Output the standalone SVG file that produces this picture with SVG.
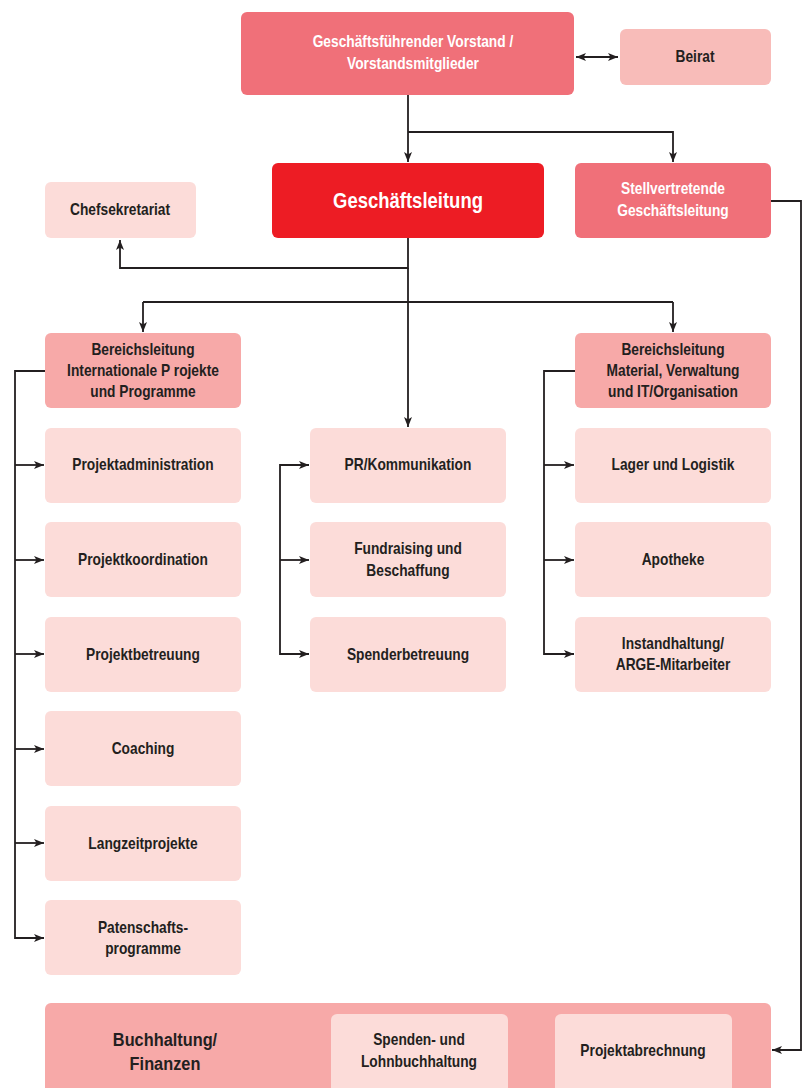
<svg xmlns="http://www.w3.org/2000/svg" width="803" height="1088" viewBox="0 0 803 1088">
<defs>
<marker id="ah" viewBox="0 0 10 8" refX="10" refY="4" markerWidth="10" markerHeight="8" markerUnits="userSpaceOnUse" orient="auto-start-reverse">
<path d="M0,0 L10,4 L0,8 L2.5,4 Z" fill="#231f20"/>
</marker>
<style>
.n rect{stroke:none}
.red{fill:#ed1c24}
.mid{fill:#f07079}
.lt{fill:#f8bcb9}
.br{fill:#f7a9a8}
.pl{fill:#fcdcd9}
text{font-family:"Liberation Sans",Arial,sans-serif;font-weight:bold;font-size:16px;text-anchor:middle;fill:#231f20;transform-box:fill-box;transform-origin:center;transform:scaleX(0.86)}
text.w{fill:#ffffff}
.c path{fill:none;stroke:#231f20;stroke-width:1.8}
</style>
</defs>
<rect width="803" height="1088" fill="#ffffff"/>
<g class="c">
<path d="M576,57 H618" marker-start="url(#ah)" marker-end="url(#ah)"/>
<path d="M408,95 V162"  marker-end="url(#ah)"/>
<path d="M408,132 H673 V162" marker-end="url(#ah)"/>
<path d="M408,238 V268 H120 V240" marker-end="url(#ah)"/>
<path d="M408,268 V427" marker-end="url(#ah)"/>
<path d="M143,302 H673" />
<path d="M143,302 V332" marker-end="url(#ah)"/>
<path d="M673,302 V332" marker-end="url(#ah)"/>
<path d="M45,371 H15 V938 H44" marker-end="url(#ah)"/>
<path d="M15,465 H44" marker-end="url(#ah)"/>
<path d="M15,560 H44" marker-end="url(#ah)"/>
<path d="M15,654 H44" marker-end="url(#ah)"/>
<path d="M15,749 H44" marker-end="url(#ah)"/>
<path d="M15,843 H44" marker-end="url(#ah)"/>
<path d="M309,465 H280 V654 H309" marker-start="url(#ah)" marker-end="url(#ah)"/>
<path d="M280,560 H309" marker-end="url(#ah)"/>
<path d="M575,371 H544 V654 H574" marker-end="url(#ah)"/>
<path d="M544,465 H574" marker-end="url(#ah)"/>
<path d="M544,560 H574" marker-end="url(#ah)"/>
<path d="M771,201 H801 V1050 H772" marker-end="url(#ah)"/>
</g>
<g id="vorstand" class="n"><rect x="241" y="12" width="333" height="83" rx="6" class="mid"/><text class="w" x="413" y="47">Geschäftsführender Vorstand /</text><text class="w" x="413" y="69">Vorstandsmitglieder</text></g>
<g id="beirat" class="n"><rect x="620" y="29" width="151" height="56" rx="6" class="lt"/><text x="695" y="62">Beirat</text></g>
<g id="gl" class="n"><rect x="272" y="163" width="272" height="75" rx="6" class="red"/><text class="w" x="408" y="208" style="font-size:21.5px">Geschäftsleitung</text></g>
<g id="sgl" class="n"><rect x="575" y="163" width="196" height="75" rx="6" class="mid"/><text class="w" x="673" y="194">Stellvertretende</text><text class="w" x="673" y="216">Geschäftsleitung</text></g>
<g id="chef" class="n"><rect x="45" y="182" width="151" height="56" rx="6" class="pl"/><text x="120" y="215">Chefsekretariat</text></g>
<g id="bl1" class="n"><rect x="45" y="333" width="196" height="75" rx="6" class="br"/><text x="143" y="355">Bereichsleitung</text><text x="143" y="376">Internationale P rojekte</text><text x="143" y="397">und Programme</text></g>
<g id="bl2" class="n"><rect x="575" y="333" width="196" height="75" rx="6" class="br"/><text x="673" y="355">Bereichsleitung</text><text x="673" y="376">Material, Verwaltung</text><text x="673" y="397">und IT/Organisation</text></g>
<g id="l1" class="n"><rect x="45" y="428" width="196" height="75" rx="6" class="pl"/><text x="143" y="470">Projektadministration</text></g>
<g id="l2" class="n"><rect x="45" y="522" width="196" height="75" rx="6" class="pl"/><text x="143" y="565">Projektkoordination</text></g>
<g id="l3" class="n"><rect x="45" y="617" width="196" height="75" rx="6" class="pl"/><text x="143" y="660">Projektbetreuung</text></g>
<g id="l4" class="n"><rect x="45" y="711" width="196" height="75" rx="6" class="pl"/><text x="143" y="754">Coaching</text></g>
<g id="l5" class="n"><rect x="45" y="806" width="196" height="75" rx="6" class="pl"/><text x="143" y="849">Langzeitprojekte</text></g>
<g id="l6" class="n"><rect x="45" y="900" width="196" height="75" rx="6" class="pl"/><text x="143" y="933">Patenschafts-</text><text x="143" y="954">programme</text></g>
<g id="m1" class="n"><rect x="310" y="428" width="196" height="75" rx="6" class="pl"/><text x="408" y="470">PR/Kommunikation</text></g>
<g id="m2" class="n"><rect x="310" y="522" width="196" height="75" rx="6" class="pl"/><text x="408" y="554">Fundraising und</text><text x="408" y="576">Beschaffung</text></g>
<g id="m3" class="n"><rect x="310" y="617" width="196" height="75" rx="6" class="pl"/><text x="408" y="660">Spenderbetreuung</text></g>
<g id="r1" class="n"><rect x="575" y="428" width="196" height="75" rx="6" class="pl"/><text x="673" y="470">Lager und Logistik</text></g>
<g id="r2" class="n"><rect x="575" y="522" width="196" height="75" rx="6" class="pl"/><text x="673" y="565">Apotheke</text></g>
<g id="r3" class="n"><rect x="575" y="617" width="196" height="75" rx="6" class="pl"/><text x="673" y="649">Instandhaltung/</text><text x="673" y="670">ARGE-Mitarbeiter</text></g>
<g id="buchhaltung" class="n"><rect x="45" y="1003" width="726" height="100" rx="6" class="br"/><text x="165" y="1046" style="font-size:19px">Buchhaltung/</text><text x="165" y="1070" style="font-size:19px">Finanzen</text></g>
<g id="lohn" class="n"><rect x="331" y="1014" width="177" height="90" rx="6" class="pl"/><text x="419" y="1045">Spenden- und</text><text x="419" y="1067">Lohnbuchhaltung</text></g>
<g id="projabr" class="n"><rect x="555" y="1014" width="177" height="90" rx="6" class="pl"/><text x="643" y="1056">Projektabrechnung</text></g>
</svg>
